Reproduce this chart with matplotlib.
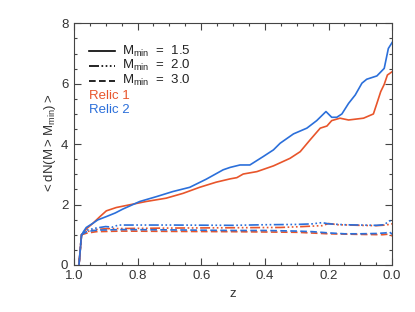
import matplotlib
matplotlib.use("Agg")
import matplotlib.pyplot as plt
from matplotlib.ticker import MultipleLocator

plt.rcParams["font.family"] = ["Liberation Sans", "DejaVu Sans"]
plt.rcParams["mathtext.fontset"] = "custom"
plt.rcParams["mathtext.rm"] = "Liberation Sans"
plt.rcParams["mathtext.default"] = "regular"

# -------------------------
# Data
# -------------------------
z_blue_15 = [0.984, 0.976, 0.97, 0.961, 0.94, 0.925, 0.898, 0.87, 0.846, 0.793, 0.741,
             0.689, 0.636, 0.584, 0.531, 0.509, 0.478, 0.447, 0.405, 0.373, 0.352, 0.31,
             0.268, 0.237, 0.208, 0.19, 0.174, 0.158, 0.137, 0.116, 0.095, 0.08, 0.048,
             0.025, 0.012, 0.0]
n_blue_15 = [0.0, 0.97, 1.1, 1.24, 1.38, 1.49, 1.60, 1.72, 1.85, 2.10, 2.26,
             2.43, 2.57, 2.84, 3.15, 3.23, 3.31, 3.31, 3.59, 3.81, 4.03, 4.34,
             4.53, 4.78, 5.08, 4.89, 4.89, 5.0, 5.35, 5.63, 6.02, 6.15, 6.26,
             6.51, 7.17, 7.37]

z_red_15 = [0.984, 0.976, 0.96, 0.94, 0.918, 0.898, 0.867, 0.825, 0.773, 0.71, 0.657,
            0.605, 0.553, 0.509, 0.488, 0.468, 0.425, 0.373, 0.321, 0.289, 0.258, 0.226,
            0.205, 0.19, 0.164, 0.137, 0.09, 0.059, 0.048, 0.036, 0.025, 0.015, 0.0]
n_red_15 = [0.0, 0.97, 1.2, 1.38, 1.6, 1.79, 1.90, 1.99, 2.10, 2.21, 2.37,
            2.57, 2.74, 2.85, 2.89, 3.01, 3.09, 3.28, 3.53, 3.75, 4.14, 4.53,
            4.60, 4.78, 4.86, 4.80, 4.86, 5.0, 5.35, 5.74, 5.98, 6.29, 6.40]

z_blue_20 = [0.984, 0.976, 0.96, 0.93, 0.9, 0.88, 0.86, 0.7, 0.5, 0.4, 0.3, 0.25, 0.22,
             0.2, 0.15, 0.05, 0.025, 0.01, 0.0]
n_blue_20 = [0.0, 1.0, 1.15, 1.22, 1.27, 1.25, 1.32, 1.32, 1.31, 1.33, 1.34, 1.36, 1.40,
             1.36, 1.33, 1.31, 1.33, 1.45, 1.48]

z_red_20 = [0.984, 0.976, 0.96, 0.93, 0.9, 0.7, 0.5, 0.35, 0.28, 0.22, 0.2, 0.17, 0.1,
            0.05, 0.02, 0.0]
n_red_20 = [0.0, 1.0, 1.1, 1.17, 1.2, 1.22, 1.23, 1.24, 1.27, 1.30, 1.37, 1.33, 1.31,
            1.30, 1.32, 1.36]

z_blue_30 = [0.984, 0.976, 0.96, 0.93, 0.85, 0.7, 0.5, 0.4, 0.3, 0.25, 0.2, 0.15, 0.1,
             0.05, 0.02, 0.01, 0.0]
n_blue_30 = [0.0, 1.0, 1.1, 1.15, 1.17, 1.16, 1.14, 1.14, 1.12, 1.10, 1.06, 1.03, 1.03,
             1.04, 1.06, 1.10, 1.02]

z_red_30 = [0.984, 0.976, 0.96, 0.93, 0.85, 0.7, 0.5, 0.3, 0.2, 0.1, 0.03, 0.01, 0.0]
n_red_30 = [0.0, 1.0, 1.05, 1.10, 1.12, 1.11, 1.10, 1.08, 1.03, 1.01, 1.0, 1.02, 0.96]

legend_labels = ["1.5", "2.0", "3.0"]
relic_names = ["Relic 1", "Relic 2"]

RED = "#E8552B"
BLUE = "#2B6FDA"
GREY = "#444444"

dashdot3 = (0, (6, 1.5, 1, 1.5, 1, 1.5, 1, 1.5))
dashed = (0, (4, 2))
styles = ["-", dashdot3, dashed]

# -------------------------
# Plot
# -------------------------
fig = plt.figure(figsize=(4.15, 3.12), dpi=100)
ax = fig.add_axes([0.178, 0.151, 0.767, 0.774])

lw = 1.2
ax.plot(z_red_15, n_red_15, color=RED, lw=lw, ls=styles[0])
ax.plot(z_blue_15, n_blue_15, color=BLUE, lw=lw, ls=styles[0])
ax.plot(z_red_20, n_red_20, color=RED, lw=lw, ls=styles[1])
ax.plot(z_blue_20, n_blue_20, color=BLUE, lw=lw, ls=styles[1])
ax.plot(z_red_30, n_red_30, color=RED, lw=lw, ls=styles[2])
ax.plot(z_blue_30, n_blue_30, color=BLUE, lw=lw, ls=styles[2])

ax.set_xlim(1.0, 0.0)
ax.set_ylim(0, 8)
ax.xaxis.set_major_locator(MultipleLocator(0.2))
ax.xaxis.set_minor_locator(MultipleLocator(0.05))
ax.yaxis.set_major_locator(MultipleLocator(2))
ax.yaxis.set_minor_locator(MultipleLocator(0.5))
ax.xaxis.set_major_formatter(plt.FormatStrFormatter("%.1f"))

ax.tick_params(which="both", direction="in", top=True, right=True,
               colors=GREY, labelsize=9.5, labelcolor="#333333")
ax.tick_params(which="major", length=5, width=0.8, pad=4)
ax.tick_params(which="minor", length=2.5, width=0.8)
for s in ax.spines.values():
    s.set_color(GREY)
    s.set_linewidth(0.8)

ax.set_xlabel("z", fontsize=9.5, color="#333333", labelpad=4)
ax.set_ylabel(r"$<$dN(M$>$M$_{min}$)$>$", fontsize=9.5, color="#333333", labelpad=2)

# legend drawn by hand (line samples + text)
x0, x1, xt = 0.048, 0.13, 0.15
rows = [0.885, 0.825, 0.763]
for y, st, lab in zip(rows, styles, legend_labels):
    ax.plot([x0, x1], [y, y], transform=ax.transAxes, color="black", lw=lw, ls=st)
    ax.text(xt, y, r"M$_{min}$  =  " + lab, transform=ax.transAxes,
            fontsize=9.5, va="center", ha="left", color="#222222")
ax.text(x0, 0.700, relic_names[0], transform=ax.transAxes, fontsize=9.5,
        va="center", ha="left", color=RED)
ax.text(x0, 0.640, relic_names[1], transform=ax.transAxes, fontsize=9.5,
        va="center", ha="left", color=BLUE)

fig.savefig("out.png", dpi=100)
